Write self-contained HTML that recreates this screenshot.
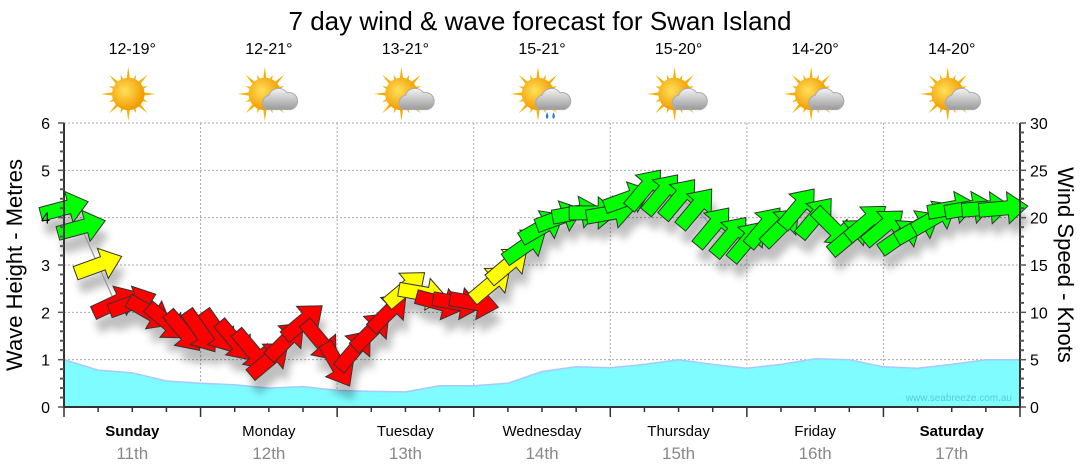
<!DOCTYPE html>
<html><head><meta charset="utf-8"><style>
html,body{margin:0;padding:0;background:#fff;width:1080px;height:475px;overflow:hidden}
svg{display:block;font-family:"Liberation Sans","DejaVu Sans",sans-serif}
</style></head><body>
<svg id="chart" width="1080" height="475" viewBox="0 0 1080 475">
<defs>
<radialGradient id="sunG" cx="40%" cy="40%" r="60%"><stop offset="0" stop-color="#ffe15a"/><stop offset="1" stop-color="#f29a00"/></radialGradient>
<linearGradient id="cloudG" x1="0" y1="0" x2="0" y2="1"><stop offset="0" stop-color="#f4f4f4"/><stop offset="1" stop-color="#9a9a9a"/></linearGradient>
<filter id="sh" x="-50%" y="-50%" width="200%" height="200%"><feGaussianBlur stdDeviation="4"/></filter>
</defs>
<text x="540" y="30" font-size="26" text-anchor="middle" fill="#000">7 day wind &amp; wave forecast for Swan Island</text>
<g id="grid"></g>
<g id="wave"></g>
<g id="shadows" filter="url(#sh)" opacity="0.25"></g>
<g id="windline"></g>
<g id="arrows"></g>
<g id="axes"></g>
<g id="topicons"></g>
<text x="1012" y="401" font-size="10" text-anchor="end" fill="#5cc8d8">www.seabreeze.com.au</text>
<text transform="translate(22,265) rotate(-90)" font-size="22" text-anchor="middle">Wave Height - Metres</text>
<text transform="translate(1058,265) rotate(90)" font-size="22" text-anchor="middle">Wind Speed - Knots</text>
</svg>
<script>
const days = ["Sunday","Monday","Tuesday","Wednesday","Thursday","Friday","Saturday"];
const dates = ["11th","12th","13th","14th","15th","16th","17th"];
const boldDays = [true,false,false,false,false,false,true];
const temps = ["12-19°","12-21°","13-21°","15-21°","15-20°","14-20°","14-20°"];
const icons = ["sun","cloud","cloud","rain","cloud","cloud","cloud"];
const waveTicks = [0,1,2,3,4,5,6];
const windTicks = [0,5,10,15,20,25,30];
// wave heights, 6-hourly (m), 29 points
const waveHeights = [1.0,0.78,0.72,0.55,0.5,0.47,0.4,0.43,0.35,0.33,0.32,0.45,0.45,0.5,0.75,0.85,0.83,0.9,1.0,0.9,0.82,0.9,1.02,1.0,0.85,0.82,0.9,1.0,1.0];
// wind speed 3-hourly (knots)
const windSpeeds = [21,19,15,11,11,10,9,8, 8,8,7,6,5,7,9,7, 4.5,6,8,10,12.5,12,11,11, 11,13,15,17,19,20,20.5,20.5, 20.5,22,23,22.5,22,21,19,18, 17.5,19,19,21,20,19,18,19.5, 19,18,19,20,21,21,21,21];
// wind direction, screen angle in degrees (0 = pointing right)
const windDirs = [-15,-15,-20,-25,-20,30,40,50, 55,55,50,50,-40,-45,-40,50, 60,-50,-45,-45,-40,10,15,10, 10,-40,-40,-35,-30,-20,-10,0, -10,-20,-50,-50,-50,-50,-50,-50, -50,-50,-45,-50,-50,45,-40,-40, -40,-35,-30,-30,-10,-10,-5,-5];

const NS="http://www.w3.org/2000/svg";
const X0=64,X1=1020,Y0=407,Y1=123;
const dayW=(X1-X0)/7;
const xH=h=>X0+h/24*dayW;
const yW=m=>Y0-m/6*(Y0-Y1);
const yK=k=>Y0-k/30*(Y0-Y1);
function mk(tag,attrs,parent){const e=document.createElementNS(NS,tag);for(const k in attrs)e.setAttribute(k,attrs[k]);parent.appendChild(e);return e;}
const G=id=>document.getElementById(id);

for(let i=1;i<6;i++){const y=yW(i);const l=mk('line',{x1:X0,x2:X1,y1:y,y2:y,stroke:'#aaa','stroke-dasharray':'2,2'},G('grid'));

}
mk('line',{x1:X0,x2:X1,y1:Y1,y2:Y1,stroke:'#aaa','stroke-dasharray':'2,2'},G('grid'));
for(let d=1;d<7;d++){const x=X0+d*dayW;const l=mk('line',{x1:x,x2:x,y1:Y1,y2:Y0,stroke:'#aaa','stroke-dasharray':'2,2'},G('grid'));

}

let wp=`M${X0},${Y0}`;
waveHeights.forEach((h,i)=>{wp+=` L${xH(i*6).toFixed(1)},${yW(h).toFixed(1)}`;});
wp+=` L${X1},${Y0} Z`;
const wa=mk('path',{d:wp,fill:'#7ffcff',stroke:'#a8c8ff','stroke-width':1.5},G('wave'));



let lp='';
windSpeeds.forEach((k,i)=>{lp+=(i?' L':'M')+xH(i*3).toFixed(1)+','+yK(k).toFixed(1);});
mk('path',{d:lp,fill:'none',stroke:'#999','stroke-width':1.2},G('windline'));

const arrowD='M-24,-7 L5,-7 L5,-16 L25,0 L5,16 L5,7 L-24,7 Z';
windSpeeds.forEach((k,i)=>{
  const x=xH(i*3), y=yK(k), a=windDirs[i];
  const col=k<12?'#ff0000':(k<17?'#ffff00':'#00ff00');
  mk('path',{d:arrowD,transform:`translate(${x+4},${y+14}) rotate(${a})`,fill:'#000'},G('shadows'));
  const ar=mk('path',{d:arrowD,transform:`translate(${x},${y}) rotate(${a})`,fill:col,stroke:'#333','stroke-width':1},G('arrows'));
  
  
});

const ax=G('axes');
mk('line',{x1:X0,x2:X0,y1:Y1,y2:Y0+1,stroke:'#333','stroke-width':2},ax);
mk('line',{x1:X1,x2:X1,y1:Y1,y2:Y0+1,stroke:'#333','stroke-width':2},ax);
mk('line',{x1:X0,x2:X1,y1:Y0,y2:Y0,stroke:'#333','stroke-width':2},ax);
for(let i=0;i<=30;i++){const y=yW(i*0.2);const big=i%5==0;mk('line',{x1:X0-(big?6:4),x2:X0,y1:y,y2:y,stroke:'#555','stroke-width':big?1.5:2},ax);}
for(let i=0;i<=30;i++){const y=yK(i);const big=i%5==0;mk('line',{x1:X1,x2:X1+(big?6:4),y1:y,y2:y,stroke:'#555','stroke-width':big?1.5:2},ax);}
waveTicks.forEach(v=>{const t=mk('text',{x:X0-14,y:yW(v)+6,'font-size':16,'text-anchor':'end'},ax);t.textContent=v;

});
windTicks.forEach(v=>{const t=mk('text',{x:X1+10,y:yK(v)+6,'font-size':16},ax);t.textContent=v;

});
for(let h=0;h<=168;h+=6){const x=xH(h);const big=h%24==0;mk('line',{x1:x,x2:x,y1:Y0,y2:Y0+(big?10:5),stroke:'#333','stroke-width':1.5},ax);}
days.forEach((d,i)=>{const cx=X0+(i+0.5)*dayW;
  const t=mk('text',{x:cx,y:436,'font-size':15,'text-anchor':'middle','font-weight':boldDays[i]?'bold':'normal'},ax);t.textContent=d;
  
  
  const t2=mk('text',{x:cx,y:459,'font-size':17,'text-anchor':'middle',fill:'#888'},ax);t2.textContent=dates[i];
  
  
});

const topG=G('topicons');
temps.forEach((tp,i)=>{const cx=X0+(i+0.5)*dayW;
  const t=mk('text',{x:cx,y:54,'font-size':16,'text-anchor':'middle'},topG);t.textContent=tp;
  
  
  const g=mk('g',{transform:`translate(${cx-4},94) scale(1.3)`},topG);
  
  
  for(let r=0;r<16;r++){const a=r*Math.PI/8, L=r%2?16:21;
    mk('polygon',{points:`${(Math.cos(a)*L).toFixed(1)},${(Math.sin(a)*L).toFixed(1)} ${(Math.cos(a+0.15)*10).toFixed(1)},${(Math.sin(a+0.15)*10).toFixed(1)} ${(Math.cos(a-0.15)*10).toFixed(1)},${(Math.sin(a-0.15)*10).toFixed(1)}`,fill:'#f5b000'},g);}
  mk('circle',{r:12.5,fill:'url(#sunG)'},g);
  if(icons[i]!=='sun'){
    mk('path',{d:'M1,12 a6,6 0 0 1 2,-11 a8,8 0 0 1 14,-2 a6,6 0 0 1 3,13 Z',fill:'url(#cloudG)',stroke:'#aaa','stroke-width':0.8},g);
  }
  if(icons[i]==='rain'){mk('path',{d:'M7,14 q-2,4 0,5 q2,-1 0,-5 M12,14 q-2,4 0,5 q2,-1 0,-5',fill:'#2a7fd4'},g);}
});
</script>
</body></html>
